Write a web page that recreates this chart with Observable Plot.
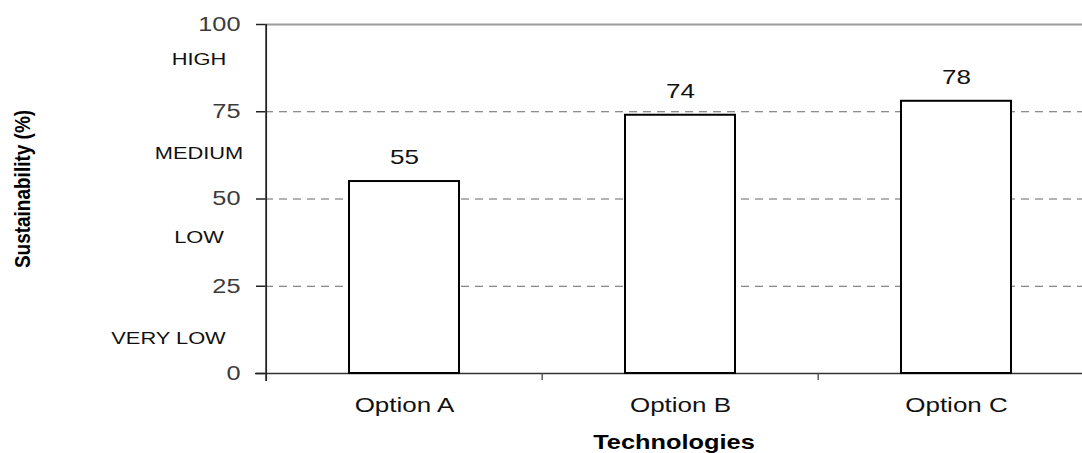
<!DOCTYPE html>
<html>
<head>
<meta charset="utf-8">
<script src="https://cdn.jsdelivr.net/npm/d3@7"></script>
<script src="https://cdn.jsdelivr.net/npm/@observablehq/plot@0.6"></script>
<style>
  html, body { margin: 0; padding: 0; background: #fff; overflow: hidden; }
  #chart svg { display: block; overflow: hidden; }
</style>
</head>
<body>
<div id="chart"></div>
<script>
// Sustainability score per technology option
const categories = ["Option A", "Option B", "Option C"];
const sustainability = [55, 74, 78];

// Value axis
const yTicks = [0, 25, 50, 75, 100];
const gridLevels = [25, 50, 75];

// Qualitative band names written beside the value axis
const bandNames = ["HIGH", "MEDIUM", "LOW", "VERY LOW"];
const bandNameLevels = [90, 63, 39, 10];

const bars = categories.map((c, i) => ({category: c, value: sustainability[i]}));
const bandTags = bandNames.map((t, i) => ({text: t, level: bandNameLevels[i]}));

const chartWidth = 1082, chartHeight = 453;
const padLeft = 265, padTop = 24, padBottom = 80;
const xRange = [padLeft, 1095];
const step = (xRange[1] - xRange[0]) / categories.length;
const font = "'Liberation Sans', Arial, Helvetica, sans-serif";

// wide, Excel-like lettering
const TEXT_STRETCH = 1.3;
const TITLE_STRETCH = 1.2;

const plot = Plot.plot({
  width: chartWidth,
  height: chartHeight,
  marginLeft: padLeft,
  marginRight: 0,
  marginTop: padTop,
  marginBottom: padBottom,
  style: {fontFamily: font, background: "white", overflow: "hidden"},
  x: {type: "band", domain: categories, range: xRange, paddingInner: 0.6, paddingOuter: 0.3, label: null},
  y: {domain: [0, 100], label: null},
  marks: [
    Plot.ruleY(gridLevels, {stroke: "#666", strokeWidth: 1, strokeDasharray: "8,6"}),
    Plot.ruleY([100], {stroke: "#9a9a9a", strokeWidth: 2}),
    Plot.ruleY([0], {stroke: "#333", strokeWidth: 1.6, insetLeft: -10}),
    Plot.barY(bars, {x: "category", y: "value", fill: "white", stroke: "#000", strokeWidth: 2}),
    // separators between categories, below the baseline
    Plot.ruleX(categories.slice(1), {x: d => d, y1: 0, y2: 0, insetBottom: -7, dx: -step / 2, stroke: "#444", strokeWidth: 1.3}),
    // value axis line
    Plot.ruleX([categories[0]], {x: d => d, y1: 100, y2: 0, insetBottom: -8, dx: -step / 2, stroke: "#222", strokeWidth: 1.8}),
    Plot.axisY(yTicks, {tickSize: 9, tickPadding: 16, fontSize: 19.5, fill: "#3c3c3c", stroke: "#222", strokeWidth: 1.5}),
    Plot.axisX({tickSize: 0, tickPadding: 24, fontSize: 20, fill: "#111", label: null}),
    Plot.text(bars, {x: "category", y: "value", text: d => String(d.value), dy: -24, fontSize: 20, fill: "#111"}),
    Plot.text(bandTags.slice(0, 3), {y: "level", text: "text", frameAnchor: "left", textAnchor: "middle", dx: -66.5, fontSize: 16.8, fill: "#111"}),
    Plot.text(bandTags.slice(3), {y: "level", text: "text", frameAnchor: "left", textAnchor: "middle", dx: -97, fontSize: 16.8, fill: "#111", letterSpacing: "1px"}),
    Plot.text(["Technologies"], {frameAnchor: "bottom", dy: 62, lineAnchor: "top", fontSize: 19.5, fontWeight: "bold", fill: "#000"}),
    Plot.text(["Sustainability (%)"], {frameAnchor: "left", textAnchor: "middle", rotate: -90, dx: -243, dy: -10, fontSize: 19, fontWeight: "bold", fill: "#000"})
  ]
});

plot.querySelectorAll("text").forEach(el => {
  const t = el.getAttribute("transform") || "";
  const s = /rotate/.test(t) ? ` scale(1,${TITLE_STRETCH})` : ` scale(${TEXT_STRETCH},1)`;
  el.setAttribute("transform", t + s);
});

document.getElementById("chart").appendChild(plot);
</script>
</body>
</html>
